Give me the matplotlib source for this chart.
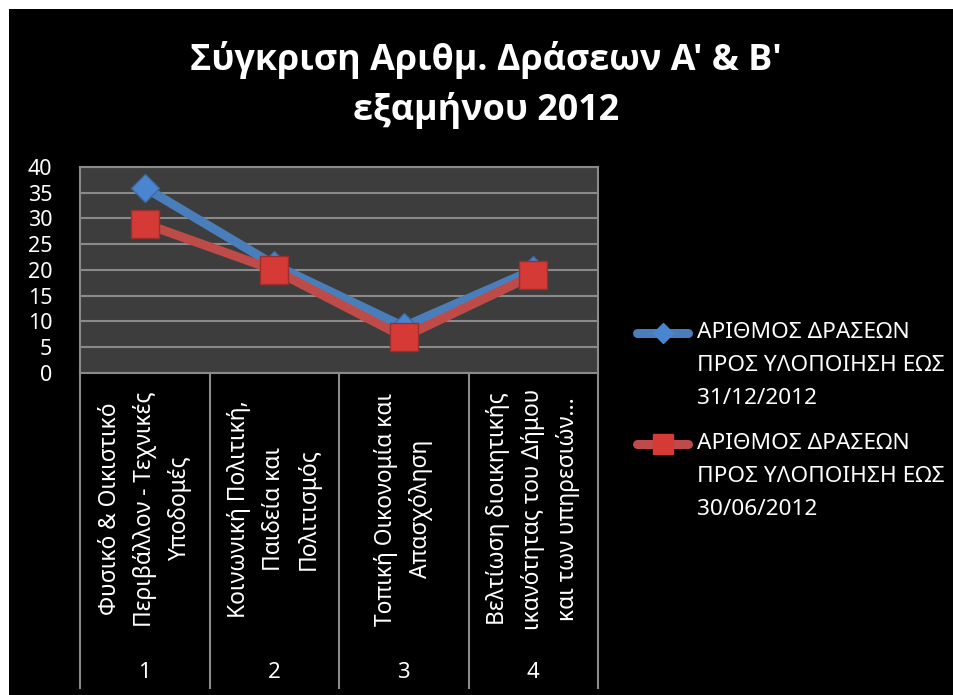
import matplotlib
matplotlib.use("Agg")
import matplotlib.pyplot as plt
from matplotlib.lines import Line2D
from matplotlib.patches import Rectangle
import matplotlib.transforms as mtransforms

plt.rcParams['font.family'] = ['Noto Sans', 'DejaVu Sans']

# ---- data ----
categories = [
    "Φυσικό & Οικιστικό\nΠεριβάλλον - Τεχνικές\nΥποδομές",
    "Κοινωνική Πολιτική,\nΠαιδεία και\nΠολιτισμός",
    "Τοπική Οικονομία και\nΑπασχόληση",
    "Βελτίωση διοικητικής\nικανότητας του Δήμου\nκαι των υπηρεσιών...",
]
category_numbers = ["1", "2", "3", "4"]
series_names = [
    "ΑΡΙΘΜΟΣ ΔΡΑΣΕΩΝ\nΠΡΟΣ ΥΛΟΠΟΙΗΣΗ ΕΩΣ\n31/12/2012",
    "ΑΡΙΘΜΟΣ ΔΡΑΣΕΩΝ\nΠΡΟΣ ΥΛΟΠΟΙΗΣΗ ΕΩΣ\n30/06/2012",
]
values_dec = [36, 21, 9, 20]
values_jun = [29, 20, 7, 19]
y_ticks = [0, 5, 10, 15, 20, 25, 30, 35, 40]
title = "Σύγκριση Αριθμ. Δράσεων Α' & Β'\nεξαμήνου 2012"

W, H = 954, 695
fig = plt.figure(figsize=(W / 100, H / 100), dpi=100, facecolor='white')
# black chart background (white strip on left and top)
fig.add_artist(Rectangle((9 / W, 0), 1 - 9 / W, 1 - 9 / H, transform=fig.transFigure,
                         facecolor='black', edgecolor='none', zorder=-10))

left, right, top, bottom = 80, 598, 167, 373
ax = fig.add_axes([left / W, 1 - bottom / H, (right - left) / W, (bottom - top) / H])
ax.set_facecolor('#3d3d3d')
for s in ax.spines.values():
    s.set_color('#8a8a8a')
    s.set_linewidth(1.5)

ax.set_ylim(0, 40)
ax.set_xlim(-0.5, len(categories) - 0.5)
ax.set_yticks(y_ticks)
ax.set_yticklabels([str(v) for v in y_ticks], color='white', fontsize=15.5)
ax.tick_params(axis='y', length=0, pad=20)
ax.set_xticks([])
ax.yaxis.grid(True, color='#8a8a8a', linewidth=1.5)
ax.set_axisbelow(True)

x = list(range(len(categories)))
blue = '#4a7ebb'
red = '#be4b48'
ax.plot(x, values_dec, color=blue, linewidth=6.5, solid_capstyle='round',
        marker='D', markersize=14, markerfacecolor='#4a86d0', markeredgecolor='#3a6aa8',
        markeredgewidth=1, zorder=3)
ax.plot(x, values_jun, color=red, linewidth=6.5, solid_capstyle='round',
        marker='s', markersize=20, markerfacecolor='#d63a37', markeredgecolor='#9a2f2c',
        markeredgewidth=1, zorder=4)

# category table below plot
trans = mtransforms.blended_transform_factory(ax.transData, ax.transAxes)
ah = bottom - top
y_end = -(688 - bottom) / ah
for b in [i - 0.5 for i in range(len(categories) + 1)]:
    ax.add_line(Line2D([b, b], [0, y_end], transform=trans, color='#8a8a8a',
                       linewidth=1.5, clip_on=False))
for i, (cat, num) in enumerate(zip(categories, category_numbers)):
    ax.text(i, -(509 - bottom) / ah, cat, transform=trans, rotation=90,
            ha='center', va='center', multialignment='center', color='white',
            fontsize=16.4, linespacing=1.6)
    ax.text(i, -(672 - bottom) / ah, num, transform=trans, ha='center', va='center',
            color='white', fontsize=16)

# title
fig.text(486 / W, 1 - 85 / H, title, ha='center', va='center', color='white',
         fontsize=25.8, fontweight='bold', linespacing=1.45,
         family=['Open Sans', 'DejaVu Sans'])

# legend (manual)
leg_entries = [(series_names[0], blue, 'D', 14, '#4a86d0', 333),
               (series_names[1], red, 's', 20, '#d63a37', 444)]
for name, col, mk, ms, mfc, yc in leg_entries:
    yf = 1 - yc / H
    fig.add_artist(Line2D([637 / W, 688 / W], [yf, yf], transform=fig.transFigure,
                          color=col, linewidth=6.5, solid_capstyle='round'))
    fig.add_artist(Line2D([663 / W], [yf], transform=fig.transFigure, marker=mk,
                          markersize=ms * 0.75, markerfacecolor=mfc, markeredgecolor=mfc,
                          linestyle='none'))
    fig.text(697 / W, 1 - (yc - 11) / H, name, ha='left', va='top', color='white',
             fontsize=16.3, linespacing=1.74, transform=fig.transFigure)

fig.savefig('out.png', dpi=100, facecolor=fig.get_facecolor())
